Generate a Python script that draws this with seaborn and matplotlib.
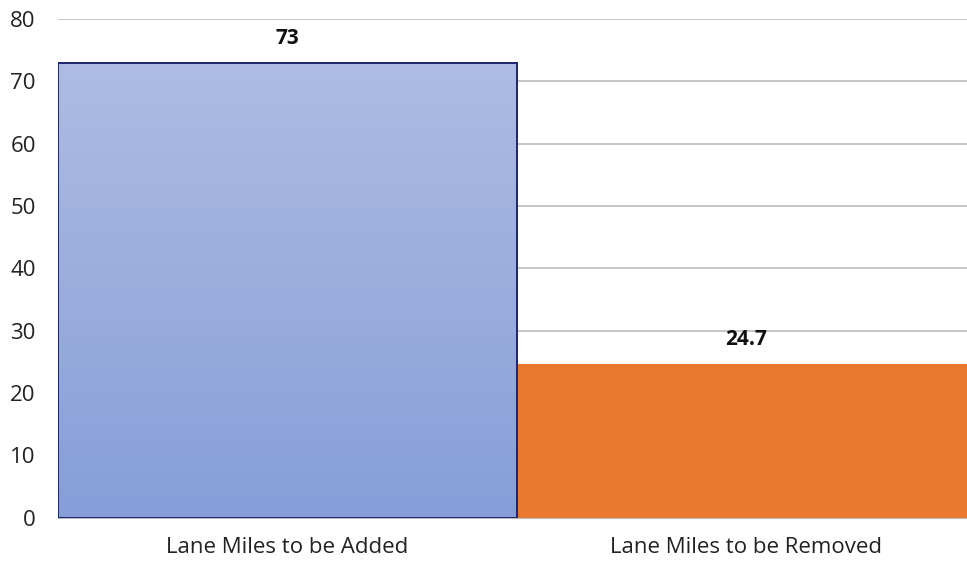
import matplotlib.pyplot as plt
import numpy as np
import pandas as pd
import seaborn as sns
from matplotlib.colors import LinearSegmentedColormap

sns.set_style("white")
plt.rcParams["font.family"] = ["Open Sans", "DejaVu Sans"]

categories = ["Lane Miles to be Added", "Lane Miles to be Removed"]
lane_miles = [73, 24.7]
value_labels = ["73", "24.7"]

df = pd.DataFrame({"category": categories, "miles": lane_miles})

fig = plt.figure(figsize=(9.67, 5.61), dpi=100)
# right edge runs a bit past the picture, like the cropped original
ax = fig.add_axes([0.06, 0.077, 0.949, 0.889])

sns.barplot(data=df, x="category", y="miles", hue="category",
            palette=["#9DAEDD", "#E8792F"], width=1.0, legend=False, ax=ax,
            saturation=1, zorder=2)

# gradient fill + dark outline on the first bar, second bar stays flat
bars = ax.patches
blue = bars[0]
blue.set_edgecolor("#1C2670")
blue.set_linewidth(1.4)
blue.set_zorder(4)
blue.set_facecolor("none")
grad_cmap = LinearSegmentedColormap.from_list("g", ["#869ED8", "#AEBCE3"])
x0, y0 = blue.get_x(), blue.get_y()
w, h = blue.get_width(), blue.get_height()
grad = np.linspace(0, 1, 256).reshape(-1, 1)
im = ax.imshow(grad, cmap=grad_cmap, origin="lower", aspect="auto",
               extent=[x0, x0 + w, y0, y0 + h], zorder=3)
im.set_clip_path(blue)
bars[1].set_edgecolor("none")

for bar, lab in zip(bars, value_labels):
    ax.text(bar.get_x() + bar.get_width() / 2, bar.get_height() + 2.2, lab,
            ha="center", va="bottom", fontsize=15, fontweight="bold", color="#111111")

ax.set_xlim(-0.5, 1.5)
ax.set_ylim(0, 80)
ax.set_yticks(range(0, 81, 10))
ax.yaxis.grid(True, color="#BBBBBB", linewidth=1.2, zorder=0)
ax.set_axisbelow(True)
for s in ["top", "right", "left"]:
    ax.spines[s].set_visible(False)
ax.spines["bottom"].set_color("#BBBBBB")
ax.set_xlabel("")
ax.set_ylabel("")
ax.tick_params(axis="both", length=0, labelsize=16, colors="#222222")
ax.tick_params(axis="y", pad=16)
ax.tick_params(axis="x", pad=14)

fig.savefig("out.png", dpi=100)
